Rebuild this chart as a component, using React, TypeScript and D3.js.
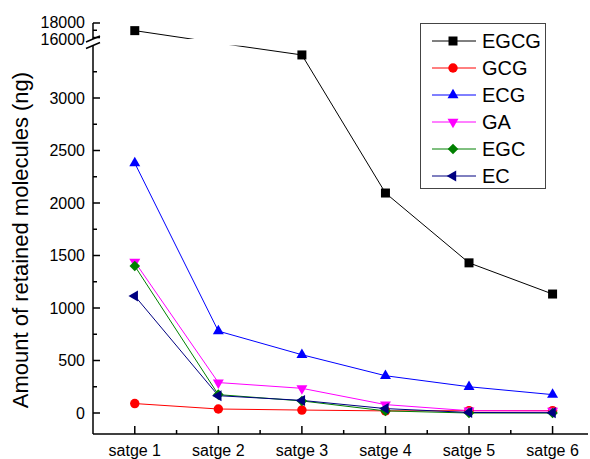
import React from "react";
import * as d3 from "d3";

// stages on the x axis (typo kept as in the source figure)
const stages = ["satge 1", "satge 2", "satge 3", "satge 4", "satge 5", "satge 6"];

// amounts in ng
const egcg = [16950, 8200, 3410, 2095, 1430, 1133];
const gcg = [90, 38, 28, 20, 22, 22];
const ecg = [2380, 780, 555, 355, 250, 175];
const ga = [1440, 290, 235, 80, 22, 20];
const egc = [1400, 175, 115, 20, 0, 0];
const ec = [1115, 165, 120, 42, 5, 3];

const lowerTicks = [0, 500, 1000, 1500, 2000, 2500, 3000];
const lowerMinor = [250, 750, 1250, 1750, 2250, 2750, 3250];
const upperTicks = [16000, 18000];
const upperMinor = [17000];

const series = [
  { name: "EGCG", values: egcg, color: "#000000", shape: "square" },
  { name: "GCG", values: gcg, color: "#ff0000", shape: "circle" },
  { name: "ECG", values: ecg, color: "#0000ff", shape: "up" },
  { name: "GA", values: ga, color: "#ff00ff", shape: "down" },
  { name: "EGC", values: egc, color: "#008000", shape: "diamond" },
  { name: "EC", values: ec, color: "#000080", shape: "left" },
];

const font = "Arial, 'Liberation Sans', sans-serif";

// broken axis: lower part -200..3500, gap, upper part 15800..18000
const gapLow = 3500;
const gapHigh = 15800;
const y = d3.scaleLinear().domain([-200, gapLow, gapHigh, 18000]).range([434, 45.5, 39, 23]);
const x = d3.scaleLinear().domain([0.5, 6.4]).range([93, 586]);

function Marker({ shape, cx, cy, color }) {
  let d;
  let rot = 0;
  if (shape === "square") d = d3.symbol(d3.symbolSquare, 81)();
  else if (shape === "circle") d = d3.symbol(d3.symbolCircle, 70)();
  else if (shape === "diamond") {
    d = d3.symbol(d3.symbolSquare, 56)();
    rot = 45;
  } else {
    d = d3.symbol(d3.symbolTriangle, 52)();
    if (shape === "down") rot = 180;
    if (shape === "left") rot = -90;
  }
  return <path d={d} transform={`translate(${cx},${cy}) rotate(${rot})`} fill={color} />;
}

// the two upper labels sit a bit apart so they don't collide
const labelShift = (t) => (t === 18000 ? -1 : t === 16000 ? 2 : 0);

export default function App() {
  const line = d3
    .line<number>()
    .x((d, i) => x(i + 1))
    .y((d) => y(d));

  const inGap = (v) => v > gapLow && v < gapHigh;
  const xMinor = d3.range(1.5, 6, 1);

  return (
    <svg width={590} height={459} style={{ position: "absolute", left: 0, top: 0, background: "#fff" }}>
      {/* lines */}
      {series.map((s) => (
        <path key={s.name} d={line(s.values)} fill="none" stroke={s.color} strokeWidth={1} />
      ))}
      {/* mask the broken region */}
      <rect x={94} y={y(gapHigh)} width={494} height={y(gapLow) - y(gapHigh)} fill="#fff" />
      {/* markers */}
      {series.map((s) =>
        s.values.map((v, i) =>
          inGap(v) ? null : <Marker key={s.name + i} shape={s.shape} cx={x(i + 1)} cy={y(v)} color={s.color} />
        )
      )}

      {/* x axis */}
      <line x1={93} x2={588} y1={434} y2={434} stroke="#000" strokeWidth={1.5} />
      {stages.map((s, i) => (
        <g key={s}>
          <line x1={x(i + 1)} x2={x(i + 1)} y1={434} y2={426} stroke="#000" strokeWidth={1.5} />
          <text x={x(i + 1)} y={456} textAnchor="middle" fontFamily={font} fontSize={16}>
            {s}
          </text>
        </g>
      ))}
      {xMinor.map((t) => (
        <line key={t} x1={x(t)} x2={x(t)} y1={434} y2={430} stroke="#000" strokeWidth={1.5} />
      ))}

      {/* y axis, in two pieces */}
      <line x1={93} x2={93} y1={y(-200)} y2={y(gapLow)} stroke="#000" strokeWidth={1.5} />
      <line x1={93} x2={93} y1={y(gapHigh)} y2={y(18000)} stroke="#000" strokeWidth={1.5} />
      <line x1={86} x2={100} y1={y(gapHigh) + 3} y2={y(gapHigh) - 3} stroke="#000" strokeWidth={1.5} />
      <line x1={86} x2={100} y1={y(gapLow) + 3} y2={y(gapLow) - 3} stroke="#000" strokeWidth={1.5} />
      {[...lowerTicks, ...upperTicks].map((t) => (
        <g key={t}>
          <line x1={93} x2={100} y1={y(t)} y2={y(t)} stroke="#000" strokeWidth={1.5} />
          <text x={85} y={y(t) + labelShift(t)} dy="0.35em" textAnchor="end" fontFamily={font} fontSize={16}>
            {t}
          </text>
        </g>
      ))}
      {[...lowerMinor, ...upperMinor].map((t) => (
        <line key={t} x1={93} x2={97} y1={y(t)} y2={y(t)} stroke="#000" strokeWidth={1.5} />
      ))}
      <text
        transform="translate(20,240) rotate(-90)"
        textAnchor="middle"
        dy="0.35em"
        fontFamily={font}
        fontSize={22}
      >
        Amount of retained molecules (ng)
      </text>

      {/* legend */}
      <rect x={420.5} y={23.5} width={125} height={165} fill="#fff" stroke="#444" strokeWidth={1} />
      {series.map((s, i) => {
        const ly = 41 + i * 27;
        return (
          <g key={s.name}>
            <line x1={432} x2={476} y1={ly} y2={ly} stroke={s.color} strokeWidth={1} />
            <Marker shape={s.shape} cx={453} cy={ly} color={s.color} />
            <text x={482} y={ly} dy="0.36em" fontFamily={font} fontSize={20}>
              {s.name}
            </text>
          </g>
        );
      })}
    </svg>
  );
}
